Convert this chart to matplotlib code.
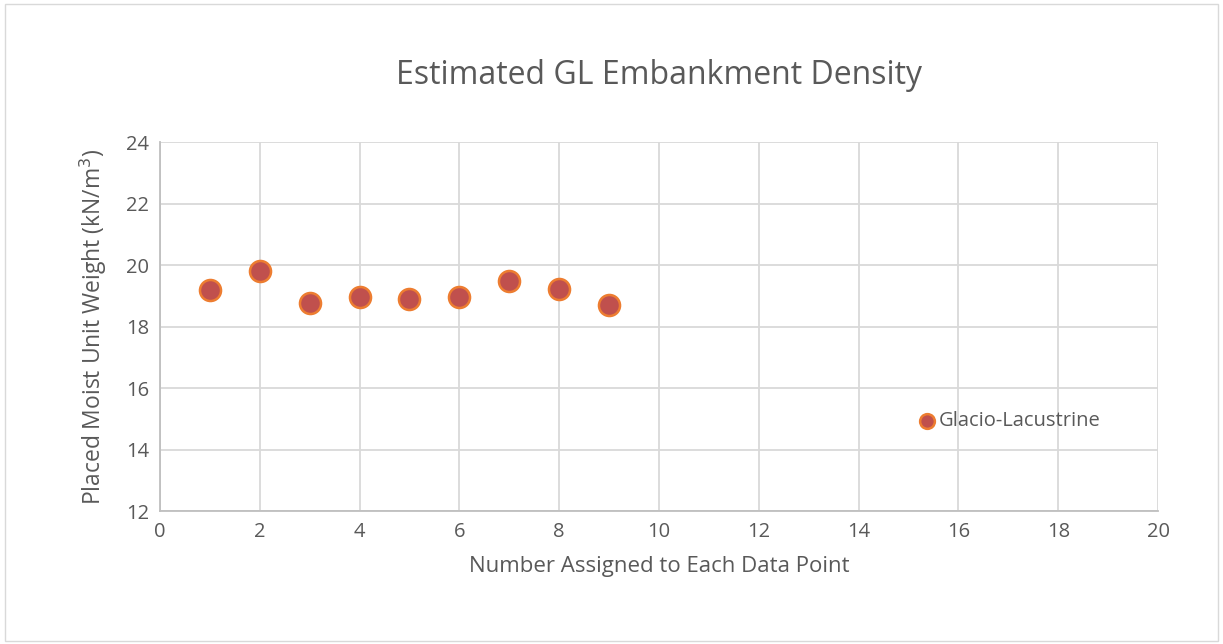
import matplotlib
matplotlib.use("Agg")
from matplotlib import pyplot as plt
from matplotlib.patches import Rectangle

plt.rcParams['font.family'] = ['Open Sans', 'DejaVu Sans']

# data
point_no = [1, 2, 3, 4, 5, 6, 7, 8, 9]
unit_weight = [19.2, 19.8, 18.76, 18.96, 18.9, 18.96, 19.48, 19.22, 18.7]
x_ticks = [0, 2, 4, 6, 8, 10, 12, 14, 16, 18, 20]
y_ticks = [12, 14, 16, 18, 20, 22, 24]

text_col = '#595959'
grid_col = '#d9d9d9'

fig = plt.figure(figsize=(12.23, 6.44), dpi=100)
fig.patches.append(Rectangle((0.004, 0.004), 0.992, 0.99, transform=fig.transFigure,
                             fill=False, edgecolor='#d9d9d9', linewidth=1))
ax = fig.add_axes([0.1308, 0.2065, 0.8161, 0.573])

ax.scatter(point_no, unit_weight, s=230, facecolor='#c0504d', edgecolor='#ed7d31',
           linewidth=1.8, zorder=3, label='Glacio-Lacustrine')

ax.set_xlim(0, 20)
ax.set_ylim(12, 24)
ax.set_xticks(x_ticks)
ax.set_yticks(y_ticks)
ax.grid(True, color=grid_col, linewidth=1.3)
ax.set_axisbelow(True)
for side in ['top', 'right']:
    ax.spines[side].set_visible(False)
for side in ['left', 'bottom']:
    ax.spines[side].set_color('#bfbfbf')
    ax.spines[side].set_linewidth(1.3)
ax.tick_params(length=0, labelsize=14.5, colors=text_col, pad=8)

ax.set_title('Estimated GL Embankment Density', fontsize=23, color=text_col, pad=42)
ax.set_xlabel('Number Assigned to Each Data Point', fontsize=16, color=text_col, labelpad=10)
ax.set_ylabel('Placed Moist Unit Weight (kN/m$^3$)', fontsize=16.5, color=text_col, labelpad=12)

leg = ax.legend(loc='center left', bbox_to_anchor=(0.74, 0.244), frameon=False,
                fontsize=14.5, handlelength=1.0, handletextpad=0.1, markerscale=0.7,
                labelcolor=text_col)

fig.savefig('out.png', dpi=100)
